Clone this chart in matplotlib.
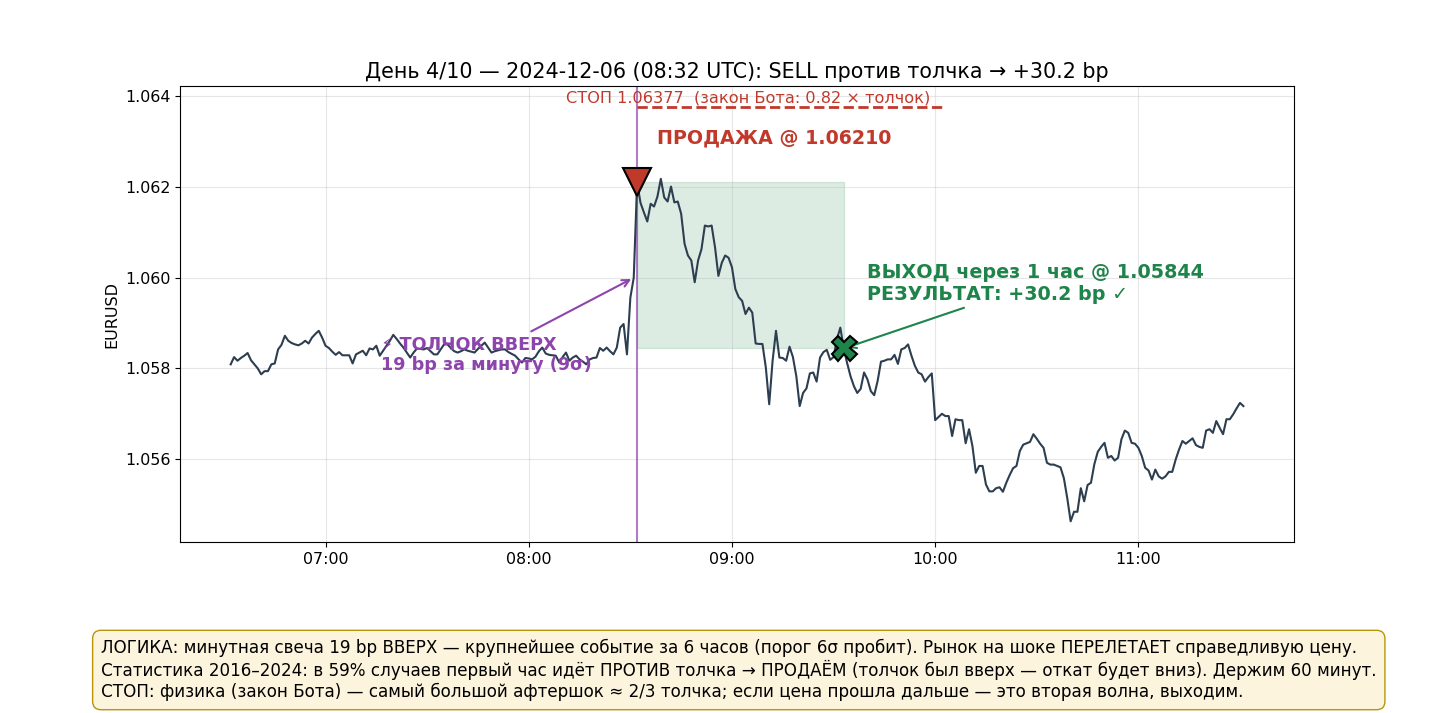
import matplotlib

matplotlib.use("Agg")

import matplotlib.dates as mdates
import matplotlib.pyplot as plt
import pandas as pd


START = "2024-12-06 06:32"
PRICES = [
    1.05809, 1.05825, 1.05817, 1.05823, 1.05828, 1.05834, 1.05818, 1.05809, 1.05800, 1.05787,
    1.05794, 1.05794, 1.05809, 1.05811, 1.05842, 1.05852, 1.05872, 1.05861, 1.05856, 1.05853,
    1.05851, 1.05855, 1.05861, 1.05855, 1.05868, 1.05876, 1.05883, 1.05868, 1.05850, 1.05845,
    1.05837, 1.05830, 1.05836, 1.05829, 1.05829, 1.05829, 1.05811, 1.05831, 1.05835, 1.05839,
    1.05829, 1.05844, 1.05842, 1.05850, 1.05828, 1.05839, 1.05850, 1.05861, 1.05874, 1.05865,
    1.05855, 1.05846, 1.05835, 1.05824, 1.05835, 1.05844, 1.05843, 1.05842, 1.05845, 1.05838,
    1.05831, 1.05831, 1.05842, 1.05853, 1.05853, 1.05845, 1.05838, 1.05835, 1.05838, 1.05842,
    1.05839, 1.05837, 1.05835, 1.05843, 1.05850, 1.05857, 1.05846, 1.05835, 1.05838, 1.05840,
    1.05842, 1.05842, 1.05836, 1.05832, 1.05828, 1.05820, 1.05813, 1.05823, 1.05822, 1.05820,
    1.05826, 1.05838, 1.05846, 1.05833, 1.05830, 1.05829, 1.05828, 1.05813, 1.05825, 1.05835,
    1.05817, 1.05824, 1.05828, 1.05820, 1.05815, 1.05809, 1.05820, 1.05823, 1.05824, 1.05845,
    1.05839, 1.05846, 1.05838, 1.05831, 1.05846, 1.05890, 1.05898, 1.05831, 1.05956, 1.06000,
    1.06210, 1.06165, 1.06144, 1.06124, 1.06163, 1.06157, 1.06179, 1.06218, 1.06177, 1.06168,
    1.06201, 1.06166, 1.06168, 1.06141, 1.06075, 1.06049, 1.06038, 1.05990, 1.06038, 1.06063,
    1.06115, 1.06113, 1.06115, 1.06067, 1.06004, 1.06033, 1.06049, 1.06044, 1.06023, 1.05975,
    1.05957, 1.05949, 1.05920, 1.05934, 1.05923, 1.05855, 1.05854, 1.05854, 1.05802, 1.05721,
    1.05817, 1.05883, 1.05824, 1.05823, 1.05817, 1.05848, 1.05825, 1.05783, 1.05717, 1.05746,
    1.05756, 1.05789, 1.05791, 1.05771, 1.05824, 1.05836, 1.05841, 1.05819, 1.05825, 1.05865,
    1.05890, 1.05844, 1.05812, 1.05783, 1.05761, 1.05746, 1.05755, 1.05791, 1.05776, 1.05750,
    1.05741, 1.05772, 1.05815, 1.05817, 1.05820, 1.05820, 1.05830, 1.05810, 1.05842, 1.05845,
    1.05853, 1.05828, 1.05806, 1.05791, 1.05787, 1.05771, 1.05781, 1.05789, 1.05686, 1.05693,
    1.05700, 1.05695, 1.05695, 1.05651, 1.05688, 1.05686, 1.05686, 1.05635, 1.05666, 1.05629,
    1.05570, 1.05585, 1.05585, 1.05544, 1.05529, 1.05529, 1.05536, 1.05538, 1.05528, 1.05548,
    1.05565, 1.05580, 1.05585, 1.05618, 1.05632, 1.05635, 1.05638, 1.05655, 1.05645, 1.05634,
    1.05625, 1.05592, 1.05588, 1.05588, 1.05585, 1.05582, 1.05558, 1.05514, 1.05463, 1.05484,
    1.05484, 1.05536, 1.05507, 1.05543, 1.05548, 1.05589, 1.05616, 1.05627, 1.05636, 1.05603,
    1.05607, 1.05597, 1.05603, 1.05644, 1.05663, 1.05658, 1.05636, 1.05634, 1.05625, 1.05607,
    1.05581, 1.05575, 1.05555, 1.05577, 1.05562, 1.05557, 1.05562, 1.05572, 1.05572, 1.05599,
    1.05621, 1.05640, 1.05634, 1.05640, 1.05646, 1.05631, 1.05627, 1.05625, 1.05663, 1.05666,
    1.05658, 1.05684, 1.05669, 1.05655, 1.05688, 1.05688, 1.05699, 1.05712, 1.05724, 1.05717,
]

ENTRY_IDX = 120
EXIT_IDX = 181
ENTRY_PRICE = 1.06210
EXIT_PRICE = 1.05844
STOP_PRICE = 1.06377
SHOCK_PRICE = 1.06000

TITLE = "День 4/10 — 2024-12-06 (08:32 UTC): SELL против толчка → +30.2 bp"
STOP_LABEL = "СТОП 1.06377  (закон Бота: 0.82 × толчок)"
ENTRY_LABEL = "ПРОДАЖА @ 1.06210"
EXIT_LABEL = "ВЫХОД через 1 час @ 1.05844\nРЕЗУЛЬТАТ: +30.2 bp ✓"
SHOCK_LABEL = "⚡ ТОЛЧОК ВВЕРХ\n19 bp за минуту (9σ)"
LOGIC_TEXT = (
    "ЛОГИКА: минутная свеча 19 bp ВВЕРХ — крупнейшее событие за 6 часов (порог 6σ пробит). "
    "Рынок на шоке ПЕРЕЛЕТАЕТ справедливую цену.\n"
    "Статистика 2016–2024: в 59% случаев первый час идёт ПРОТИВ толчка → ПРОДАЁМ "
    "(толчок был вверх — откат будет вниз). Держим 60 минут.\n"
    "СТОП: физика (закон Бота) — самый большой афтершок ≈ 2/3 толчка; "
    "если цена прошла дальше — это вторая волна, выходим."
)

RED = "#c0392b"
GREEN = "#1e8449"
PURPLE = "#8e44ad"
LINE = "#2c3e50"


def main():
    times = pd.date_range(START, periods=len(PRICES), freq="min")
    entry_t = times[ENTRY_IDX]
    exit_t = times[EXIT_IDX]
    minute = pd.Timedelta(minutes=1)

    fig = plt.figure(figsize=(14.37, 7.13), dpi=100)
    ax = fig.add_axes([0.1253, 0.2398, 0.7752, 0.6396])

    ax.plot(times, PRICES, color=LINE, linewidth=1.5, zorder=3)

    ax.fill_between([entry_t, exit_t], EXIT_PRICE, ENTRY_PRICE, color=GREEN, alpha=0.15, zorder=1)
    ax.axvline(entry_t, color=PURPLE, alpha=0.7, linewidth=1.5, zorder=2)
    ax.hlines(STOP_PRICE, entry_t, exit_t + 30 * minute, colors=RED, linestyles="--", linewidth=2, zorder=2)

    ax.plot([entry_t], [ENTRY_PRICE], marker="v", markersize=20, color=RED,
            markeredgecolor="black", markeredgewidth=1.5, zorder=5)
    ax.plot([exit_t], [EXIT_PRICE], marker="X", markersize=18, color=GREEN,
            markeredgecolor="black", markeredgewidth=1.5, zorder=5)

    ax.text(times[0] + 152.7 * minute, STOP_PRICE + 0.00003, STOP_LABEL, color=RED,
            fontsize=11.6, ha="center", va="bottom")
    ax.text(times[0] + 160.4 * minute, 1.06309, ENTRY_LABEL, color=RED,
            fontsize=13.7, fontweight="bold", ha="center", va="center")

    ax.annotate(EXIT_LABEL, xy=(exit_t, EXIT_PRICE), xytext=(times[0] + 237.6 * minute, 1.05987),
                color=GREEN, fontsize=13.8, fontweight="bold", ha="center", va="center",
                multialignment="left",
                arrowprops=dict(arrowstyle="->", color=GREEN, lw=1.5))
    ax.annotate(SHOCK_LABEL, xy=(times[ENTRY_IDX - 1], SHOCK_PRICE),
                xytext=(times[0] + 75.5 * minute, 1.0583),
                color=PURPLE, fontsize=12.7, fontweight="bold", ha="center", va="center",
                multialignment="left",
                arrowprops=dict(arrowstyle="->", color=PURPLE, lw=1.5))

    ax.set_title(TITLE, fontsize=14.9)
    ax.set_ylabel("EURUSD", fontsize=11.5)
    ax.tick_params(labelsize=11.4)
    ax.xaxis.set_major_locator(mdates.HourLocator())
    ax.xaxis.set_major_formatter(mdates.DateFormatter("%H:%M"))
    ax.grid(True, alpha=0.3)

    fig.text(0.0703, 0.0603, LOGIC_TEXT, fontsize=12.1, ha="left", va="center",
             bbox=dict(boxstyle="round,pad=0.5", facecolor="#fdf4dd", edgecolor="#b7950b"))

    fig.savefig("out.png", dpi=100)
    plt.close(fig)


if __name__ == "__main__":
    main()
